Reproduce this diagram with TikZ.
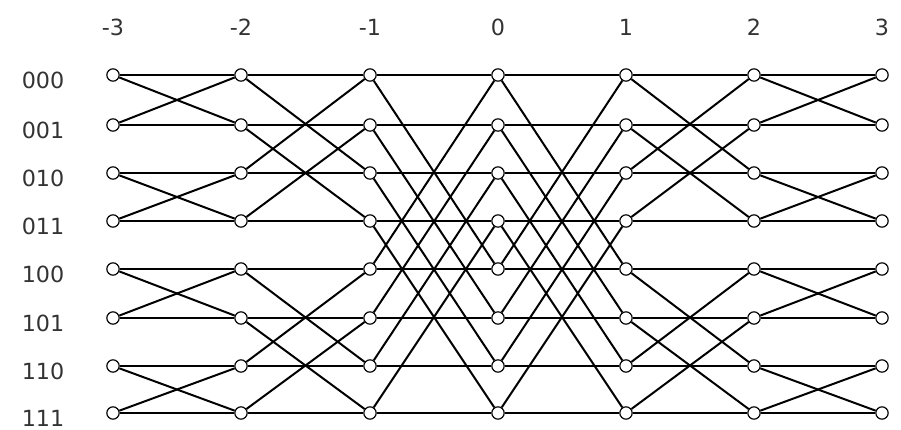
\documentclass[tikz,border=0pt]{standalone}
\usepackage{fontspec}
\setmainfont{DejaVu Sans}
\begin{document}
\begin{tikzpicture}[x=0.03cm,y=-0.03cm,
  vtx/.style={circle,draw=black,fill=white,line width=1pt,minimum size=0.37cm,inner sep=0pt},
  edge/.style={line width=1.7pt,black},
  lbl/.style={font=\fontsize{19}{21}\selectfont,text=black!80,inner sep=0pt}]
\useasboundingbox (0,0) rectangle (901,430);
\def\colx{{113,241,370,498,626,754,882}}
\def\rowy{{75,125,173,221,269,318,366,413}}
\foreach \c in {0,...,6}{
  \foreach \r in {0,...,7}{
    \pgfmathsetmacro\xx{\colx[\c]}
    \pgfmathsetmacro\yy{\rowy[\r]}
    \node[vtx] (n-\c-\r) at (\xx,\yy) {};
  }
}
\foreach \c/\t in {0/-3,1/-2,2/-1,3/0,4/1,5/2,6/3}{
  \pgfmathsetmacro\xx{\colx[\c]}
  \node[lbl] (t\c) at (\xx,27) {\t};
}
\foreach \r/\t in {0/000,1/001,2/010,3/011,4/100,5/101,6/110,7/111}{
  \pgfmathsetmacro\yy{\rowy[\r]+5}
  \node[lbl] (l\r) at (43,\yy) {\t};
}
\foreach \c/\m in {0/1,1/2,2/4,3/4,4/2,5/1}{
  \pgfmathtruncatemacro\d{\c+1}
  \foreach \r in {0,...,7}{
    \pgfmathtruncatemacro\p{mod(floor(\r/\m),2)==0 ? \r+\m : \r-\m}
    \draw[edge] (n-\c-\r) -- (n-\d-\r);
    \draw[edge] (n-\c-\r) -- (n-\d-\p);
  }
}
\end{tikzpicture}
\end{document}
